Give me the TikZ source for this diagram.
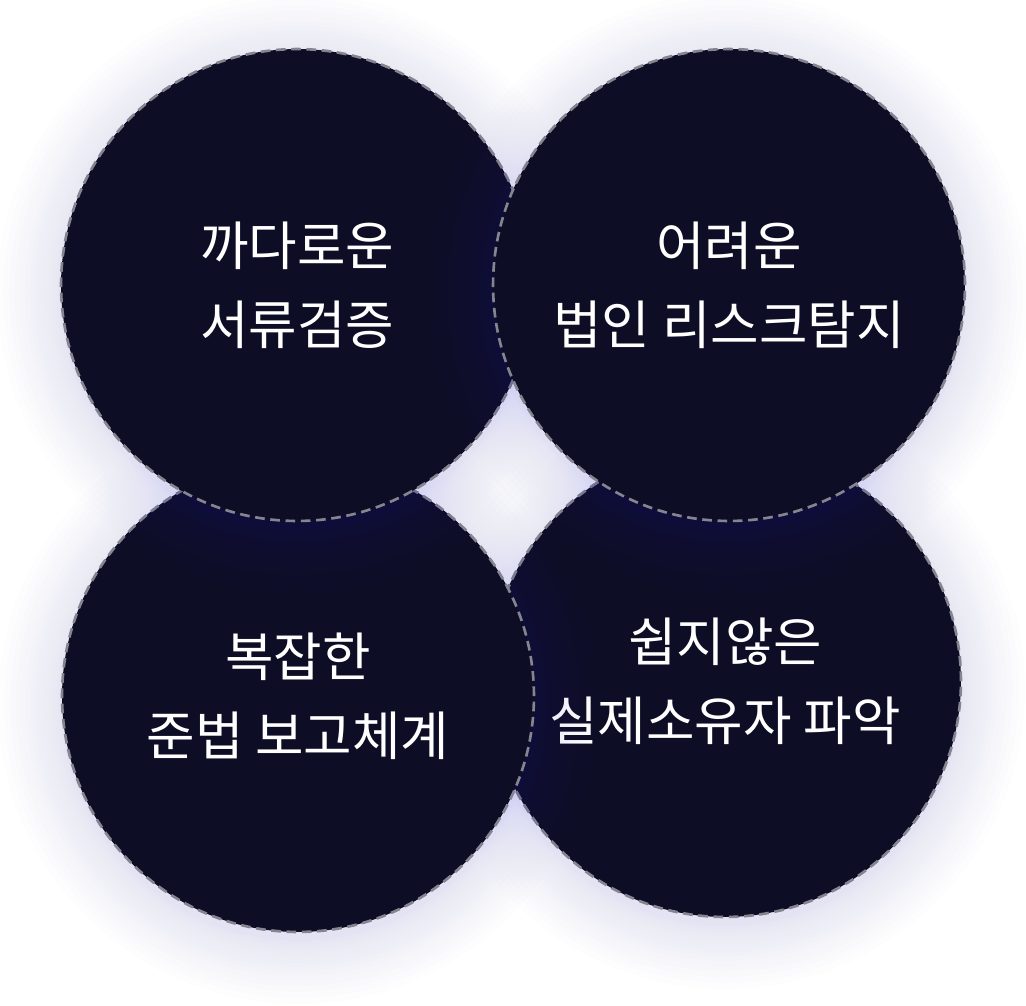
\documentclass[tikz,border=0pt]{standalone}
\usepackage{fontspec}
\setmainfont{Noto Sans CJK KR}
\definecolor{bubblefill}{HTML}{0E0D26}
\definecolor{bubbleedge}{HTML}{85858F}
\definecolor{halo}{HTML}{7070F4}
\tikzset{
  bubble/.style={circle, fill=bubblefill, draw=bubbleedge, line width=1.5pt,
    dash pattern=on 5.5pt off 3.2pt, minimum size=9.44cm, inner sep=0pt,
    text=white, align=center, font=\fontsize{30}{45}\selectfont},
}
% soft glow behind a bubble, centre given in px
\newcommand\bubblehalo[2]{%
  \foreach \k in {1,...,20}{
    \pgfmathsetmacro\hr{(236+0.16*\k*\k)*0.02}
    \fill[halo, opacity=0.009] (#1,#2-8) circle (\hr cm);
  }}
\begin{document}
\begin{tikzpicture}[x=0.02cm, y=0.02cm]
  \fill[white] (0,0) rectangle (1026,-1005);
  \useasboundingbox (0,0) rectangle (1026,-1005);
  % bottom row first, top row over it
  \bubblehalo{725}{-681}
  \node[bubble] (owner) at (725,-681) {쉽지않은\\실제소유자 파악};
  \bubblehalo{298}{-696}
  \node[bubble] (report) at (298,-696) {복잡한\\준법 보고체계};
  \bubblehalo{297}{-285}
  \node[bubble] (docs) at (297,-285) {까다로운\\서류검증};
  \bubblehalo{729}{-285}
  \node[bubble] (risk) at (729,-285) {어려운\\법인 리스크탐지};
\end{tikzpicture}
\end{document}
